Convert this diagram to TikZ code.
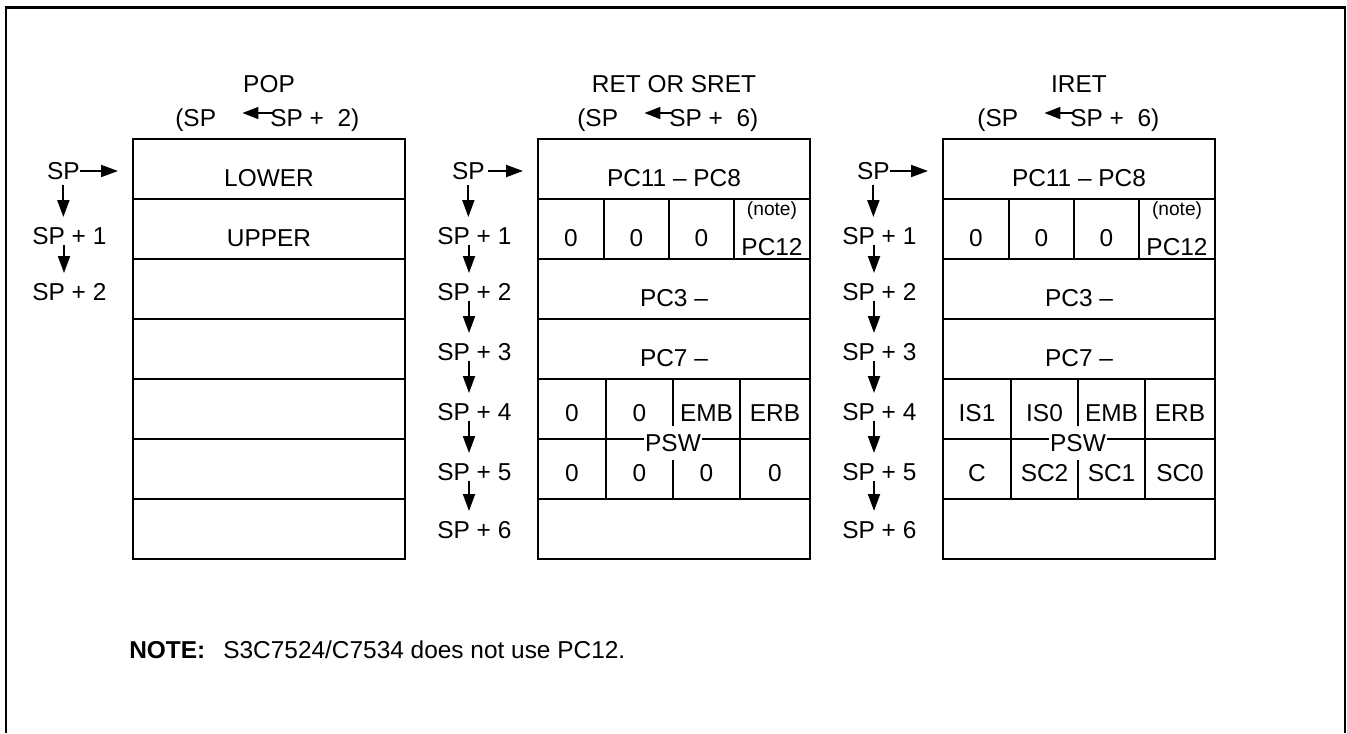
\documentclass[tikz,border=0pt]{standalone}
\usepackage{fontspec}
\setmainfont{Liberation Sans}
\usepackage{tikz}
\usetikzlibrary{arrows.meta, positioning}
\newcommand{\diagfont}{\fontsize{13.9}{16}\selectfont}
\newcommand{\notefont}{\fontsize{10.9}{12}\selectfont}

\begin{document}
\begin{tikzpicture}[
    font=\diagfont,
    word_row/.style={draw, line width=1.1pt, inner sep=0pt, outer sep=0pt, minimum height=1.2cm, text height=0.7cm, text depth=0pt},
    full_row/.style={word_row, minimum width=5.44cm},
    flag_bit/.style={word_row, text height=0.5cm},
    psw_tag/.style={fill=white, inner xsep=0.5pt, inner ysep=0.16cm},
    addr_label/.style={inner sep=0pt},
    sp_arrow/.style={line width=1.1pt, -{Triangle[length=0.34cm, width=0.24cm]}},
    load_arrow/.style={line width=0.9pt, -{Triangle[length=0.32cm, width=0.24cm]}, shorten >=0.52cm},
    frame_line/.style={line width=1.2pt}
]
    \useasboundingbox (0,0) rectangle (26.94,-14.66);
    % Outer frame (open at the bottom)
    \draw [frame_line] (0.12,-14.66) -- (0.12,-0.15) -- (26.90,-0.15) -- (26.90,-14.66);

    % POP
    \node (pop_title) [addr_label] at (5.38,-1.68) {POP};
    \node (pop_old) [addr_label, anchor=base west] at (3.50,-2.52) {(SP};
    \node (pop_new) [addr_label, anchor=base west] at (5.40,-2.52) {SP +\ \ 2)};
    \draw [load_arrow] ([xshift=0.06cm, yshift=0.26cm]pop_new.base west) -- ([yshift=0.26cm]pop_old.base east);

    \node (pop0) [full_row] at (5.38,-3.38) {LOWER};
    \node (pop1) [full_row, below=0pt of pop0] {UPPER};
    \node (pop2) [full_row, below=0pt of pop1] {};
    \node (pop3) [full_row, below=0pt of pop2] {};
    \node (pop4) [full_row, below=0pt of pop3] {};
    \node (pop5) [full_row, below=0pt of pop4] {};
    \node (pop6) [full_row, below=0pt of pop5] {};

    \node (pop_sp) [addr_label, anchor=east] at (1.60,-3.42) {SP};
    \node (pop_l1) [addr_label, anchor=west] at (0.64,-4.72) {SP + 1};
    \node (pop_l2) [addr_label, anchor=west] at (0.64,-5.84) {SP + 2};
    \draw [sp_arrow, shorten >=0.3cm] (pop_sp.east) -- (pop_sp.east -| pop0.west);
    \draw [sp_arrow, shorten <=0.1cm, shorten >=0.2cm] (pop_sp.south) -- (pop_sp.south |- pop_l1.north);
    \draw [sp_arrow, shorten >=0.2cm] ([xshift=0.64cm]pop_l1.south west) -- ([xshift=0.64cm]pop_l2.north west);

    % RET or SRET
    \node (ret_title) [addr_label] at (13.48,-1.68) {RET OR SRET};
    \node (ret_old) [addr_label, anchor=base west] at (11.54,-2.52) {(SP};
    \node (ret_new) [addr_label, anchor=base west] at (13.38,-2.52) {SP +\ \ 6)};
    \draw [load_arrow] ([xshift=0.06cm, yshift=0.26cm]ret_new.base west) -- ([yshift=0.26cm]ret_old.base east);

    \node (ret0) [full_row] at (13.48,-3.38) {PC11 – PC8};
    \node (ret1a) [word_row, minimum width=1.32cm, anchor=north west] at (ret0.south west) {0};
    \node (ret1b) [word_row, minimum width=1.30cm, right=0pt of ret1a] {0};
    \node (ret1c) [word_row, minimum width=1.30cm, right=0pt of ret1b] {0};
    \node (ret1d) [word_row, minimum width=1.52cm, right=0pt of ret1c] {};
    \node (ret_note) [addr_label, font=\notefont] at ([yshift=0.36cm]ret1d.center) {(note)};
    \node (ret_pc12) [addr_label] at ([yshift=-0.36cm]ret1d.center) {PC12};
    \node (ret2) [full_row, anchor=north west] at (ret1a.south west) {PC3 –};
    \node (ret3) [full_row, below=0pt of ret2] {PC7 –};
    \node (ret4a) [flag_bit, minimum width=1.36cm, anchor=north west] at (ret3.south west) {0};
    \node (ret4b) [flag_bit, minimum width=1.34cm, right=0pt of ret4a] {0};
    \node (ret4c) [flag_bit, minimum width=1.34cm, right=0pt of ret4b] {EMB};
    \node (ret4d) [flag_bit, minimum width=1.40cm, right=0pt of ret4c] {ERB};
    \node (ret5a) [flag_bit, minimum width=1.36cm, below=0pt of ret4a] {0};
    \node (ret5b) [flag_bit, minimum width=1.34cm, right=0pt of ret5a] {0};
    \node (ret5c) [flag_bit, minimum width=1.34cm, right=0pt of ret5b] {0};
    \node (ret5d) [flag_bit, minimum width=1.40cm, right=0pt of ret5c] {0};
    \node (ret6) [full_row, anchor=north west] at (ret5a.south west) {};
    \node (ret_psw) [psw_tag] at ([yshift=-0.08cm]ret4b.south east) {PSW};

    \node (ret_sp) [addr_label, anchor=east] at (9.70,-3.42) {SP};
    \node (ret_l1) [addr_label, anchor=west] at (8.74,-4.72) {SP + 1};
    \node (ret_l2) [addr_label, anchor=west] at (8.74,-5.84) {SP + 2};
    \node (ret_l3) [addr_label, anchor=west] at (8.74,-7.04) {SP + 3};
    \node (ret_l4) [addr_label, anchor=west] at (8.74,-8.24) {SP + 4};
    \node (ret_l5) [addr_label, anchor=west] at (8.74,-9.44) {SP + 5};
    \node (ret_l6) [addr_label, anchor=west] at (8.74,-10.60) {SP + 6};
    \draw [sp_arrow, shorten <=0.06cm, shorten >=0.3cm] (ret_sp.east) -- (ret_sp.east -| ret0.west);
    \draw [sp_arrow, shorten <=0.1cm, shorten >=0.2cm] (ret_sp.south) -- (ret_sp.south |- ret_l1.north);
    \draw [sp_arrow, shorten >=0.2cm] ([xshift=0.64cm]ret_l1.south west) -- ([xshift=0.64cm]ret_l2.north west);
    \draw [sp_arrow, shorten >=0.2cm] ([xshift=0.64cm]ret_l2.south west) -- ([xshift=0.64cm]ret_l3.north west);
    \draw [sp_arrow, shorten >=0.2cm] ([xshift=0.64cm]ret_l3.south west) -- ([xshift=0.64cm]ret_l4.north west);
    \draw [sp_arrow, shorten >=0.2cm] ([xshift=0.64cm]ret_l4.south west) -- ([xshift=0.64cm]ret_l5.north west);
    \draw [sp_arrow, shorten >=0.2cm] ([xshift=0.64cm]ret_l5.south west) -- ([xshift=0.64cm]ret_l6.north west);

    % IRET
    \node (iret_title) [addr_label] at (21.58,-1.68) {IRET};
    \node (iret_old) [addr_label, anchor=base west] at (19.54,-2.52) {(SP};
    \node (iret_new) [addr_label, anchor=base west] at (21.40,-2.52) {SP +\ \ 6)};
    \draw [load_arrow] ([xshift=0.06cm, yshift=0.26cm]iret_new.base west) -- ([yshift=0.26cm]iret_old.base east);

    \node (iret0) [full_row] at (21.58,-3.38) {PC11 – PC8};
    \node (iret1a) [word_row, minimum width=1.32cm, anchor=north west] at (iret0.south west) {0};
    \node (iret1b) [word_row, minimum width=1.30cm, right=0pt of iret1a] {0};
    \node (iret1c) [word_row, minimum width=1.30cm, right=0pt of iret1b] {0};
    \node (iret1d) [word_row, minimum width=1.52cm, right=0pt of iret1c] {};
    \node (iret_note) [addr_label, font=\notefont] at ([yshift=0.36cm]iret1d.center) {(note)};
    \node (iret_pc12) [addr_label] at ([yshift=-0.36cm]iret1d.center) {PC12};
    \node (iret2) [full_row, anchor=north west] at (iret1a.south west) {PC3 –};
    \node (iret3) [full_row, below=0pt of iret2] {PC7 –};
    \node (iret4a) [flag_bit, minimum width=1.36cm, anchor=north west] at (iret3.south west) {IS1};
    \node (iret4b) [flag_bit, minimum width=1.34cm, right=0pt of iret4a] {IS0};
    \node (iret4c) [flag_bit, minimum width=1.34cm, right=0pt of iret4b] {EMB};
    \node (iret4d) [flag_bit, minimum width=1.40cm, right=0pt of iret4c] {ERB};
    \node (iret5a) [flag_bit, minimum width=1.36cm, below=0pt of iret4a] {C};
    \node (iret5b) [flag_bit, minimum width=1.34cm, right=0pt of iret5a] {SC2};
    \node (iret5c) [flag_bit, minimum width=1.34cm, right=0pt of iret5b] {SC1};
    \node (iret5d) [flag_bit, minimum width=1.40cm, right=0pt of iret5c] {SC0};
    \node (iret6) [full_row, anchor=north west] at (iret5a.south west) {};
    \node (iret_psw) [psw_tag] at ([yshift=-0.08cm]iret4b.south east) {PSW};

    \node (iret_sp) [addr_label, anchor=east] at (17.80,-3.42) {SP};
    \node (iret_l1) [addr_label, anchor=west] at (16.84,-4.72) {SP + 1};
    \node (iret_l2) [addr_label, anchor=west] at (16.84,-5.84) {SP + 2};
    \node (iret_l3) [addr_label, anchor=west] at (16.84,-7.04) {SP + 3};
    \node (iret_l4) [addr_label, anchor=west] at (16.84,-8.24) {SP + 4};
    \node (iret_l5) [addr_label, anchor=west] at (16.84,-9.44) {SP + 5};
    \node (iret_l6) [addr_label, anchor=west] at (16.84,-10.60) {SP + 6};
    \draw [sp_arrow, shorten >=0.3cm] (iret_sp.east) -- (iret_sp.east -| iret0.west);
    \draw [sp_arrow, shorten <=0.1cm, shorten >=0.2cm] (iret_sp.south) -- (iret_sp.south |- iret_l1.north);
    \draw [sp_arrow, shorten >=0.2cm] ([xshift=0.64cm]iret_l1.south west) -- ([xshift=0.64cm]iret_l2.north west);
    \draw [sp_arrow, shorten >=0.2cm] ([xshift=0.64cm]iret_l2.south west) -- ([xshift=0.64cm]iret_l3.north west);
    \draw [sp_arrow, shorten >=0.2cm] ([xshift=0.64cm]iret_l3.south west) -- ([xshift=0.64cm]iret_l4.north west);
    \draw [sp_arrow, shorten >=0.2cm] ([xshift=0.64cm]iret_l4.south west) -- ([xshift=0.64cm]iret_l5.north west);
    \draw [sp_arrow, shorten >=0.2cm] ([xshift=0.64cm]iret_l5.south west) -- ([xshift=0.64cm]iret_l6.north west);

    % Note
    \node (note_head) [addr_label, anchor=base west, font=\diagfont\bfseries] at (2.58,-13.17) {NOTE:};
    \node (note_text) [addr_label, anchor=base west] at (4.46,-13.17) {S3C7524/C7534 does not use PC12.};
\end{tikzpicture}
\end{document}
